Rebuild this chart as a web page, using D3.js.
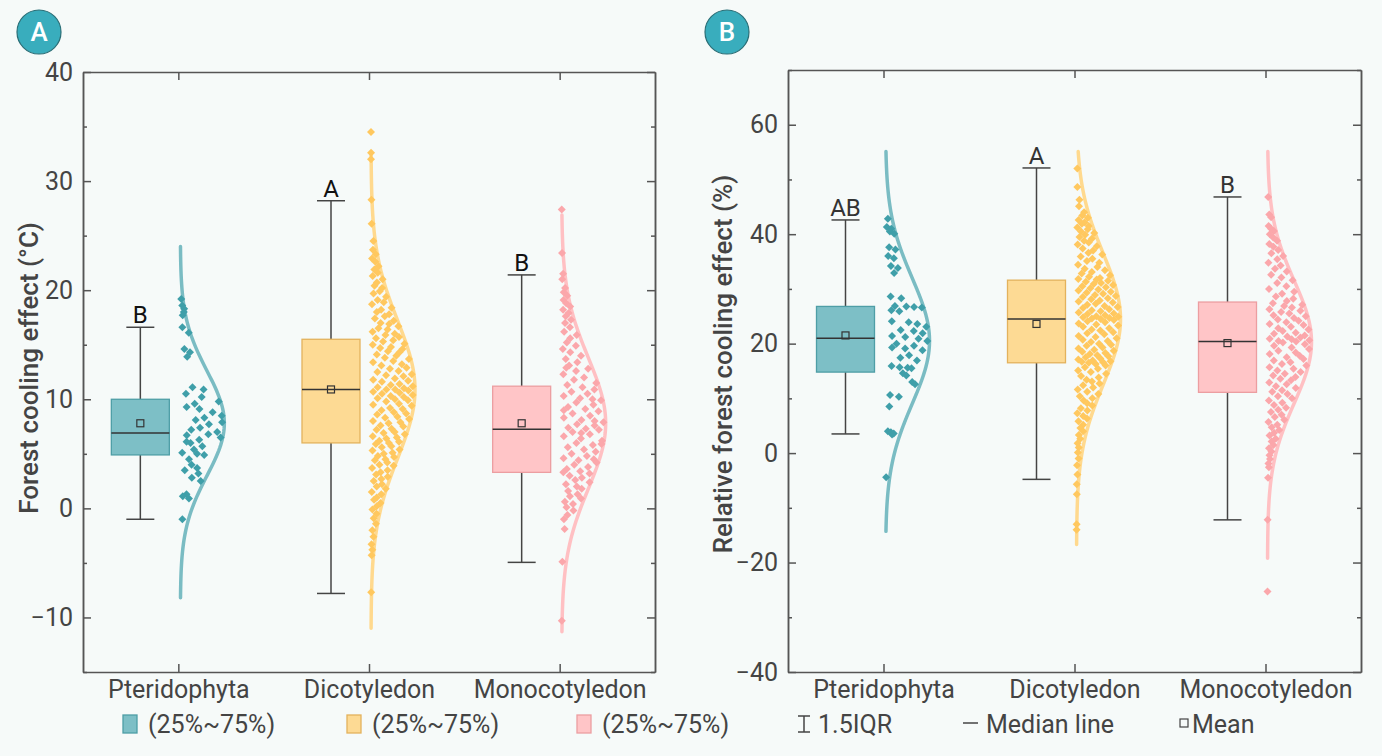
<!DOCTYPE html>
<html lang="en">
<head>
<meta charset="utf-8">
<title>Forest cooling effect by plant group</title>
<script src="https://cdn.jsdelivr.net/npm/d3@7"></script>
<style>
  body { margin: 0; background: #f6faf9; }
  svg { display: block; font-family: Roboto, "Noto Sans", sans-serif; }
</style>
</head>
<body>
<svg id="chart" width="1382" height="756"></svg>
<script>
// ---- data ----
var groups = ["Pteridophyta", "Dicotyledon", "Monocotyledon"];

// panel A : forest cooling effect (°C)
var q1A = [4.9, 6.0, 3.3];
var medA = [6.9, 10.9, 7.25];
var q3A = [10.0, 15.5, 11.2];
var meanA = [7.8, 10.9, 7.8];
var lowA = [-1.0, -7.8, -4.95];
var highA = [16.6, 28.2, 21.4];
var lettersA = ["B", "A", "B"];
var curveMeanA = [7.8, 10.9, 7.8];
var curveSdA = [4.8, 6.3, 6.0];
var curveLoA = [-8.2, -11.0, -11.3];
var curveHiA = [24.0, 32.7, 26.9];
var ticksA = [-10, 0, 10, 20, 30, 40];
var minorA = [-15, -5, 5, 15, 25, 35];

// panel B : relative forest cooling effect (%)
var q1B = [14.8, 16.5, 11.1];
var medB = [21.0, 24.5, 20.4];
var q3B = [26.8, 31.6, 27.6];
var meanB = [21.5, 23.6, 20.1];
var lowB = [3.5, -4.8, -12.2];
var highB = [42.6, 52.1, 46.8];
var lettersB = ["AB", "A", "B"];
var curveMeanB = [20.5, 24.5, 20.3];
var curveSdB = [11.5, 12.0, 11.2];
var curveLoB = [-14.3, -16.7, -19.2];
var curveHiB = [55.1, 55.1, 55.1];
var ticksB = [-40, -20, 0, 20, 40, 60];
var minorB = [-30, -10, 10, 30, 50, 70];

// sample points: [value, jitter 0-9]
var ptA = [[19.2,3],[18.6,5],[18.3,9],[18.0,7],[17.7,4],[16.6,2],[16.1,8],[14.6,2],[14.3,5],[13.9,3],[11.1,3],[10.9,6],[10.5,1],[10.2,5],[9.8,9],[9.6,3],[9.3,1],[9.1,4],[8.8,7],[8.5,9],[8.3,5],[8.1,3],[7.9,9],[7.7,6],[7.4,4],[7.2,2],[7.0,8],[6.8,6],[6.7,1],[6.5,9],[6.3,4],[6.1,1],[6.0,2],[5.7,5],[5.4,3],[5.1,0],[5.0,4],[4.9,6],[4.5,2],[4.0,3],[3.7,5],[3.5,1],[3.2,6],[2.8,4],[2.5,8],[1.3,3],[1.1,1],[0.9,5],[-1.0,2]];
var dcA = [[34.5,2],[32.6,3],[32.0,1],[28.3,4],[26.1,2],[24.5,5],[23.7,3],[23.3,7],[22.9,1],[22.6,5],[22.2,8],[21.9,3],[21.6,6],[21.3,1],[21.0,9],[20.7,4],[20.4,2],[20.2,7],[19.9,5],[19.7,1],[19.4,8],[19.1,3],[18.9,6],[18.7,0],[18.4,9],[18.2,4],[18.0,2],[17.8,7],[17.6,5],[17.4,1],[17.2,8],[17.0,3],[16.9,6],[16.7,9],[16.5,2],[16.4,5],[16.2,0],[16.0,7],[15.9,4],[15.7,8],[15.6,1],
  [15.4,6],[15.3,3],[15.1,9],[15.0,0],[14.8,5],[14.7,2],[14.6,8],[14.4,4],[14.3,7],[14.1,1],[14.0,6],[13.8,3],[13.7,9],[13.5,5],[13.4,0],[13.2,7],[13.1,2],[12.9,8],[12.8,4],[12.6,6],[12.5,1],[12.3,9],[12.2,3],[12.1,7],[11.9,5],[11.8,0],[11.7,8],[11.6,2],[11.4,6],[11.3,4],[11.2,9],[11.1,1],[11.0,7],[10.9,3],[10.9,5],
  [10.8,8],[10.7,0],[10.6,6],[10.5,2],[10.4,9],[10.3,4],[10.2,7],[10.1,1],[10.0,5],[9.9,8],[9.8,3],[9.6,6],[9.5,0],[9.4,9],[9.2,4],[9.1,7],[9.0,2],[8.8,5],[8.7,8],[8.6,1],[8.4,6],[8.3,3],[8.2,9],[8.0,0],[7.9,7],[7.8,4],[7.6,2],[7.5,8],[7.3,5],[7.2,1],[7.0,6],[6.9,3],[6.8,9],[6.6,0],[6.5,7],[6.4,4],[6.2,2],[6.1,8],[6.0,5],
  [5.9,1],[5.7,6],[5.6,3],[5.4,9],[5.3,0],[5.1,7],[5.0,4],[4.8,2],[4.7,8],[4.5,5],[4.4,1],[4.2,6],[4.0,3],[3.9,9],[3.7,0],[3.5,7],[3.3,4],[3.1,2],[2.9,8],[2.7,5],[2.5,1],[2.2,6],[2.0,3],[1.8,9],[1.5,0],[1.3,7],[1.0,4],[0.8,2],[0.5,8],[0.2,5],[-0.1,1],[-0.5,6],[-0.9,3],[-1.4,7],[-2.0,2],[-2.6,5],[-3.3,1],[-3.8,4],[-4.3,2],[-7.7,3]];
var mcA = [[27.4,3],[23.4,2],[21.5,4],[21.0,1],[20.2,6],[19.8,3],[19.5,8],[19.1,2],[18.8,5],[18.5,9],[18.2,1],[17.9,6],[17.6,3],[17.3,7],[17.0,2],[16.6,5],[16.2,1],[15.9,8],[15.6,4],[15.2,2],[14.9,6],[14.6,0],[14.3,3],[14.0,7],[13.7,1],[13.4,5],[13.1,2],[12.9,1],[12.8,8],[12.6,4],[12.3,0],[12.0,6],[11.8,3],[11.5,9],[11.3,1],
  [11.1,5],[10.9,8],[10.7,2],[10.5,6],[10.3,0],[10.1,4],[10.0,7],[9.9,9],[9.7,3],[9.5,7],[9.3,1],[9.1,5],[9.0,0],[8.9,8],[8.7,2],[8.5,6],[8.3,0],[8.1,4],[8.0,7],[7.9,9],[7.7,3],[7.6,7],[7.4,1],[7.3,5],
  [7.2,8],[7.0,2],[6.9,4],[6.8,6],[6.6,0],[6.4,4],[6.2,9],[6.0,3],[5.9,9],[5.8,7],[5.6,1],[5.4,5],[5.2,8],[5.0,2],[4.8,6],[4.6,0],[4.5,8],[4.4,4],[4.2,9],[4.0,3],[3.8,7],[3.6,1],[3.4,5],[3.3,0],
  [3.2,8],[3.0,2],[2.8,6],[2.6,4],[2.4,9],[2.2,1],[2.0,5],[1.8,7],[1.6,2],[1.3,6],[1.1,3],[0.9,8],[0.6,1],[0.4,5],[0.1,2],[-0.2,6],[-0.6,3],[-1.0,1],[-1.9,2],[-4.9,1],[-10.3,2]];

var ptB = [[42.8,3],[41.3,1],[41.0,6],[40.5,4],[40.1,8],[37.6,2],[37.2,6],[36.0,1],[35.6,4],[34.2,2],[33.8,5],[32.9,3],[28.6,1],[28.3,4],[26.9,2],[26.8,5],[26.7,7],[26.6,9],[26.1,1],[25.9,3],[24.1,1],[23.9,5],[23.6,7],[23.1,9],[22.5,3],[22.3,6],[21.9,8],[21.4,1],[21.2,4],[20.9,7],[20.5,9],[20.0,2],[19.6,6],[19.3,1],[19.1,4],[18.8,8],[17.9,5],[17.4,3],[16.9,7],[15.9,1],[15.7,3],[15.6,5],[15.5,6],[14.6,4],[14.2,5],[13.0,7],[12.6,8],[10.6,1],[10.3,4],[8.5,1],[4.0,1],[3.8,3],[3.6,5],[3.4,4],[-4.4,1]];
var dcB = [[52.0,2],[48.6,1],[46.3,3],[45.1,2],[44.0,6],[43.4,4],[43.0,8],[42.6,1],[42.2,5],[41.9,3],[41.5,7],[41.2,0],[40.9,6],[40.5,2],[40.2,9],[39.9,4],[39.5,1],[39.2,7],[38.8,3],[38.5,5],[38.1,0],[37.8,8],[37.4,2],[37.0,6],[36.6,4],[36.3,9],[35.9,1],[35.5,5],[35.1,3],[34.8,7],[34.4,0],[34.0,6],[33.7,2],[33.4,8],[33.1,4],[32.8,1],[32.5,9],[32.2,3],[32.0,6],[31.8,0],[31.7,5],
  [31.5,8],[31.3,2],[31.1,6],[30.9,4],[30.7,9],[30.5,1],[30.3,7],[30.1,3],[29.9,5],[29.7,0],[29.5,8],[29.3,2],[29.1,6],[28.9,4],[28.7,9],[28.5,1],[28.3,7],[28.1,3],[27.9,5],[27.7,0],[27.5,8],[27.3,4],[27.1,2],[26.9,6],[26.7,9],[26.5,1],[26.3,7],[26.1,3],[25.9,5],[25.7,0],[25.5,8],[25.4,2],[25.2,6],[25.0,4],[24.9,9],[24.8,1],[24.7,7],[24.6,3],[24.5,5],
  [24.3,8],[24.1,2],[23.9,6],[23.7,0],[23.5,4],[23.3,9],[23.1,1],[22.8,7],[22.6,3],[22.4,5],[22.1,8],[21.9,2],[21.7,6],[21.4,0],[21.2,4],[21.0,9],[20.7,1],[20.5,7],[20.3,3],[20.0,5],[19.8,8],[19.6,2],[19.3,6],[19.1,0],[18.9,4],[18.7,9],[18.5,1],[18.3,7],[18.1,3],[17.9,5],[17.7,8],[17.5,2],[17.3,6],[17.1,0],[16.9,4],[16.8,9],[16.7,1],[16.6,7],[16.5,3],
  [16.3,5],[16.0,8],[15.7,2],[15.4,6],[15.1,0],[14.8,4],[14.5,9],[14.1,1],[13.8,7],[13.4,3],[13.1,5],[12.7,8],[12.4,2],[12.0,6],[11.6,0],[11.2,4],[10.8,9],[10.4,1],[10.0,7],[9.6,3],[9.1,5],[8.7,8],[8.2,2],[7.8,6],[7.3,0],[6.8,4],[6.3,7],[5.8,1],[5.2,5],[4.6,3],[4.0,6],[3.3,2],[2.6,4],[1.8,1],[1.0,3],[0.1,2],[-1.0,4],[-2.2,1],[-3.9,3],[-5.7,1],[-7.5,2],[-13.0,3],[-14.0,1]];
var mcB = [[46.8,2],[43.6,3],[43.1,6],[41.5,1],[41.0,4],[40.6,7],[40.0,2],[39.4,5],[38.8,8],[38.2,1],[37.7,4],[37.1,7],[36.5,2],[36.0,9],[35.4,5],[34.8,0],[34.3,6],[33.7,3],[33.2,8],[32.6,1],[32.1,5],[31.6,9],[31.1,3],[30.5,6],[30.0,0],[29.5,8],[29.1,4],[28.6,2],[28.2,7],[27.8,5],
  [27.4,1],[27.1,9],[26.9,4],[26.6,6],[26.3,0],[26.0,8],[25.8,3],[25.5,5],[25.2,1],[25.0,9],[24.7,6],[24.4,2],[24.2,7],[23.9,4],[23.6,0],[23.4,8],[23.1,5],[22.8,2],[22.6,9],[22.3,3],[22.0,6],[21.8,1],[21.5,8],[21.3,4],[21.1,7],[20.9,0],[20.8,5],[20.6,9],[20.5,2],[20.4,6],
  [20.2,3],[19.9,8],[19.6,1],[19.3,5],[19.0,9],[18.7,2],[18.4,6],[18.1,0],[17.8,7],[17.5,4],[17.2,8],[16.9,1],[16.6,5],[16.3,3],[16.0,9],[15.7,0],[15.4,6],[15.1,2],[14.8,8],[14.5,4],[14.2,1],[13.9,7],[13.6,3],[13.3,6],[12.9,0],[12.6,5],[12.2,2],[11.9,8],[11.5,4],[11.2,1],
  [10.8,6],[10.4,3],[10.0,8],[9.6,0],[9.2,5],[8.8,2],[8.3,7],[7.9,4],[7.5,1],[7.0,6],[6.6,3],[6.1,8],[5.7,0],[5.2,5],[4.7,2],[4.2,7],[3.7,4],[3.2,1],[2.6,6],[2.1,3],[1.5,5],[0.9,1],[0.3,4],[-0.4,2],[-1.1,3],[-1.9,1],[-2.6,2],[-4.5,1],[-12.2,1],[-25.3,1]];

// ---- styles ----
var boxFill = ["#7dbfc6", "#fdda94", "#ffc5c7"];
var boxStroke = ["#4e9ea6", "#e3b25c", "#ec9ea1"];
var pointFill = ["#3f9fa9", "#ffc85f", "#fba7ab"];
var curveStroke = ["#7abcc3", "#ffd98e", "#ffc0c3"];
var ink = "#444";

var svg = d3.select("#chart");
svg.append("rect").attr("width", 1382).attr("height", 756).attr("fill", "#f6faf9");

var curveW = 44;

// d3.axis puts its own font on the group, so put ours back afterwards
function styleAxis(sel) {
  sel.attr("font-size", 25).attr("font-family", "Roboto, sans-serif");
}

function drawPanel(p) {
  var x = d3.scaleLinear().domain([0.5, 3.5]).range([p.left, p.right]);
  var y = d3.scaleLinear().domain(p.domain).range([p.bottom, p.top]);
  var g = svg.append("g");

  // curves + points
  groups.forEach(function(name, i) {
    var base = x(i + 1) + 2;
    var shape = function(v) {
      var z = (v - p.cm[i]) / p.csd[i];
      return Math.exp(-0.5 * z * z);
    };
    var vs = d3.range(p.clo[i], p.chi[i], 0.25).concat([p.chi[i]]);
    g.append("path")
      .datum(vs)
      .attr("fill", "none")
      .attr("stroke", curveStroke[i])
      .attr("stroke-width", 3.5)
      .attr("stroke-linecap", "round")
      .attr("d", d3.line()
        .x(function(v) { return base + curveW * shape(v); })
        .y(function(v) { return y(v); }));

    g.append("g").selectAll("path")
      .data(p.pts[i])
      .enter().append("path")
      .attr("d", d3.symbol().type(d3.symbolSquare).size(32))
      .attr("fill", pointFill[i])
      .attr("transform", function(d) {
        var px = base + ((d[1] + 0.5) / 10) * curveW * shape(d[0]);
        return "translate(" + px + "," + y(d[0]) + ") rotate(45)";
      });
  });

  // boxes
  groups.forEach(function(name, i) {
    var cx = x(i + 1) - 38;
    var bw = 58, cw = 28;
    g.append("line").attr("x1", cx).attr("x2", cx)
      .attr("y1", y(p.high[i])).attr("y2", y(p.q3[i]))
      .attr("stroke", ink).attr("stroke-width", 1.5);
    g.append("line").attr("x1", cx).attr("x2", cx)
      .attr("y1", y(p.q1[i])).attr("y2", y(p.low[i]))
      .attr("stroke", ink).attr("stroke-width", 1.5);
    [p.high[i], p.low[i]].forEach(function(v) {
      g.append("line").attr("x1", cx - cw / 2).attr("x2", cx + cw / 2)
        .attr("y1", y(v)).attr("y2", y(v))
        .attr("stroke", ink).attr("stroke-width", 1.5);
    });
    g.append("rect")
      .attr("x", cx - bw / 2).attr("width", bw)
      .attr("y", y(p.q3[i])).attr("height", y(p.q1[i]) - y(p.q3[i]))
      .attr("fill", boxFill[i]).attr("stroke", boxStroke[i]).attr("stroke-width", 1.3);
    g.append("line").attr("x1", cx - bw / 2).attr("x2", cx + bw / 2)
      .attr("y1", y(p.med[i])).attr("y2", y(p.med[i]))
      .attr("stroke", "#333").attr("stroke-width", 1.5);
    g.append("rect")
      .attr("x", cx - 3.5).attr("y", y(p.mean[i]) - 3.5)
      .attr("width", 7).attr("height", 7)
      .attr("fill", "none").attr("stroke", "#333").attr("stroke-width", 1.2);
    g.append("text")
      .attr("x", cx).attr("y", y(p.high[i]) - 4)
      .attr("text-anchor", "middle")
      .attr("font-size", 24)
      .attr("fill", p.letterColor)
      .text(p.letters[i]);
  });

  // axes (ticks point inward)
  var fmt = d3.format("d");
  var axes = svg.append("g").attr("color", "#555");
  axes.append("g").attr("transform", "translate(" + p.left + ",0)")
    .call(d3.axisLeft(y).tickValues(p.minor).tickSize(-4).tickSizeOuter(0).tickFormat(""));
  axes.append("g").attr("transform", "translate(" + p.right + ",0)")
    .call(d3.axisRight(y).tickValues(p.minor).tickSize(-4).tickSizeOuter(0).tickFormat(""));
  axes.append("g").attr("transform", "translate(" + p.right + ",0)")
    .call(d3.axisRight(y).tickValues(p.ticks).tickSize(-8).tickSizeOuter(0).tickFormat(""));
  axes.append("g").attr("transform", "translate(0," + p.top + ")")
    .call(d3.axisTop(x).tickValues([1, 2, 3]).tickSize(-8).tickSizeOuter(0).tickFormat(""));
  axes.append("g").attr("transform", "translate(" + p.left + ",0)")
    .call(d3.axisLeft(y).tickValues(p.ticks).tickSize(-8).tickSizeOuter(0).tickPadding(10).tickFormat(fmt))
    .call(styleAxis);
  axes.append("g").attr("transform", "translate(0," + p.bottom + ")")
    .call(d3.axisBottom(x).tickValues([1, 2, 3]).tickSize(-8).tickSizeOuter(0).tickPadding(8)
      .tickFormat(function(d) { return groups[d - 1]; }))
    .call(styleAxis);
  axes.selectAll(".domain").attr("stroke-width", 1.5);
  axes.selectAll(".tick line").attr("stroke-width", 1.5);
  axes.selectAll(".tick text").attr("fill", ink);

  // y title
  svg.append("text")
    .attr("transform", "translate(" + p.titleX + "," + p.titleY + ") rotate(-90)")
    .attr("text-anchor", "middle")
    .attr("font-size", 26)
    .attr("font-weight", 500)
    .attr("fill", ink)
    .text(p.title);

  // badge
  svg.append("circle").attr("cx", p.badgeX).attr("cy", 32).attr("r", 22)
    .attr("fill", "#39adbd").attr("stroke", "#2a6e76").attr("stroke-width", 1.2);
  svg.append("text").attr("x", p.badgeX).attr("y", 41)
    .attr("text-anchor", "middle").attr("font-size", 26).attr("font-weight", 500)
    .attr("fill", "#fff").text(p.badge);
}

drawPanel({
  left: 83, right: 655, top: 72, bottom: 672, domain: [-15, 40],
  ticks: ticksA, minor: minorA,
  q1: q1A, med: medA, q3: q3A, mean: meanA, low: lowA, high: highA,
  letters: lettersA, letterColor: "#111",
  cm: curveMeanA, csd: curveSdA, clo: curveLoA, chi: curveHiA,
  pts: [ptA, dcA, mcA],
  title: "Forest cooling effect (°C)", titleX: 38, titleY: 368,
  badge: "A", badgeX: 39
});

drawPanel({
  left: 788, right: 1361, top: 70, bottom: 672, domain: [-40, 70],
  ticks: ticksB, minor: minorB,
  q1: q1B, med: medB, q3: q3B, mean: meanB, low: lowB, high: highB,
  letters: lettersB, letterColor: "#333",
  cm: curveMeanB, csd: curveSdB, clo: curveLoB, chi: curveHiB,
  pts: [ptB, dcB, mcB],
  title: "Relative forest cooling effect (%)", titleX: 732, titleY: 364,
  badge: "B", badgeX: 727
});

// legend
var legend = svg.append("g").attr("font-size", 25).attr("fill", ink);
var swX = [123, 347, 577];
groups.forEach(function(name, i) {
  legend.append("rect").attr("x", swX[i]).attr("y", 715).attr("width", 14).attr("height", 18)
    .attr("fill", boxFill[i]).attr("stroke", boxStroke[i]).attr("stroke-width", 1.3);
  legend.append("text").attr("x", swX[i] + 25).attr("y", 733).text("(25%~75%)");
});
var iqr = legend.append("g").attr("stroke", ink).attr("stroke-width", 1.5);
iqr.append("line").attr("x1", 798).attr("x2", 810).attr("y1", 716).attr("y2", 716);
iqr.append("line").attr("x1", 798).attr("x2", 810).attr("y1", 732).attr("y2", 732);
iqr.append("line").attr("x1", 804).attr("x2", 804).attr("y1", 716).attr("y2", 732);
legend.append("text").attr("x", 818).attr("y", 733).text("1.5IQR");
legend.append("line").attr("x1", 963).attr("x2", 978).attr("y1", 723).attr("y2", 723)
  .attr("stroke", ink).attr("stroke-width", 1.5);
legend.append("text").attr("x", 986).attr("y", 733).text("Median line");
legend.append("rect").attr("x", 1180).attr("y", 719).attr("width", 8).attr("height", 8)
  .attr("fill", "none").attr("stroke", ink).attr("stroke-width", 1.2);
legend.append("text").attr("x", 1192).attr("y", 733).text("Mean");
</script>
</body>
</html>
